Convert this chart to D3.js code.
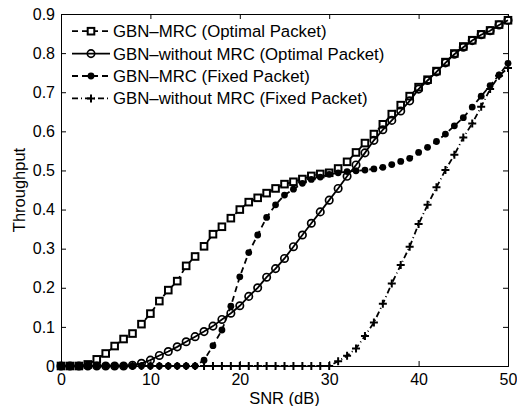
<!DOCTYPE html>
<html>
<head>
<meta charset="utf-8">
<script src="https://cdn.jsdelivr.net/npm/d3@7"></script>
<style>
  body { margin: 0; background: #fff; }
  svg text { font-family: "Liberation Sans", Arial, Helvetica, sans-serif; fill: #000; }
</style>
</head>
<body>
<div id="chart"></div>
<script>
// SNR (dB) sample points
var snr = [0,1,2,3,4,5,6,7,8,9,10,11,12,13,14,15,16,17,18,19,20,21,22,23,24,25,
           26,27,28,29,30,31,32,33,34,35,36,37,38,39,40,41,42,43,44,45,46,47,48,49,50];

// throughput
var mrcOptimal = [0,0,0,0.004,0.017,0.032,0.051,0.069,0.083,0.107,0.134,0.166,0.194,0.217,0.256,0.28,
  0.306,0.337,0.356,0.378,0.40,0.419,0.43,0.442,0.454,0.465,0.471,0.478,0.486,0.491,0.494,0.505,
  0.522,0.546,0.57,0.593,0.618,0.644,0.667,0.69,0.713,0.732,0.754,0.777,0.799,0.817,0.833,0.848,
  0.858,0.873,0.884];
var noMrcOptimal = [0,0,0,0,0,0,0,0,0.002,0.007,0.015,0.027,0.037,0.049,0.062,0.075,0.088,0.102,
  0.119,0.135,0.154,0.178,0.2,0.227,0.249,0.275,0.305,0.335,0.365,0.394,0.424,0.454,0.485,0.514,
  0.545,0.577,0.604,0.628,0.652,0.678,0.708,0.73,0.752,0.775,0.797,0.815,0.832,0.847,0.857,0.872,0.884];
var mrcFixed = [0,0,0,0,0,0,0,0,0,0,0,0,0,0,0,0,0.015,0.052,0.092,0.153,0.228,0.29,0.335,0.38,
  0.412,0.437,0.452,0.467,0.477,0.483,0.49,0.494,0.497,0.499,0.501,0.504,0.508,0.515,0.523,0.531,
  0.546,0.559,0.574,0.593,0.614,0.635,0.662,0.69,0.717,0.744,0.774];
var noMrcFixed = [0,0,0,0,0,0,0,0,0,0,0,0,0,0,0,0,0,0,0,0,0,0,0,0,0,0,0,0,0,0,0,0.012,0.026,
  0.045,0.077,0.111,0.159,0.211,0.258,0.305,0.363,0.412,0.457,0.501,0.54,0.584,0.62,0.663,0.708,
  0.742,0.762];

var legendLabels = ["GBN\u2013MRC (Optimal Packet)", "GBN\u2013without MRC (Optimal Packet)",
                    "GBN\u2013MRC (Fixed Packet)", "GBN\u2013without MRC (Fixed Packet)"];
var xTicks = [0, 10, 20, 30, 40, 50];
var yTicks = [0, 0.1, 0.2, 0.3, 0.4, 0.5, 0.6, 0.7, 0.8, 0.9];

var series = [
  { values: mrcOptimal,   marker: "square", dash: "6,4" },
  { values: noMrcOptimal, marker: "circle", dash: null },
  { values: mrcFixed,     marker: "dot",    dash: "6,4" },
  { values: noMrcFixed,   marker: "plus",   dash: "6,3,1,3" }
];

var width = 517, height = 406;
var margin = { left: 61, right: 9, top: 14, bottom: 40 };

var svg = d3.select("#chart").append("svg")
    .attr("width", width)
    .attr("height", height);

var x = d3.scaleLinear().domain([0, 50]).range([margin.left, width - margin.right]);
var y = d3.scaleLinear().domain([0, 0.9]).range([height - margin.bottom, margin.top]);

// axes: MATLAB-ish, ticks pointing inwards on all four sides
var tickFmt = function(d) { return d === 0 ? "0" : d3.format(".1f")(d); };

svg.append("g")
    .attr("transform", "translate(0," + y(0) + ")")
    .call(d3.axisBottom(x).tickValues(xTicks).tickSize(-5).tickPadding(8).tickFormat(d3.format("d")));
svg.append("g")
    .attr("transform", "translate(0," + y(0.9) + ")")
    .call(d3.axisTop(x).tickValues(xTicks).tickSize(-5).tickFormat(""));
svg.append("g")
    .attr("transform", "translate(" + x(0) + ",0)")
    .call(d3.axisLeft(y).tickValues(yTicks).tickSize(-5).tickPadding(6).tickFormat(tickFmt));
svg.append("g")
    .attr("transform", "translate(" + x(50) + ",0)")
    .call(d3.axisRight(y).tickValues(yTicks).tickSize(-5).tickFormat(""));

svg.selectAll(".domain").attr("stroke", "#000").attr("stroke-width", 1);
svg.selectAll(".tick line").attr("stroke", "#000");
svg.selectAll(".tick text").style("font-size", "16px");

// axis titles
svg.append("text")
    .attr("x", (x(0) + x(50)) / 2)
    .attr("y", 404)
    .attr("text-anchor", "middle")
    .style("font-size", "16.5px")
    .text("SNR (dB)");
svg.append("text")
    .attr("transform", "translate(25," + ((y(0) + y(0.9)) / 2) + ") rotate(-90)")
    .attr("text-anchor", "middle")
    .style("font-size", "16.5px")
    .text("Throughput");

function drawMarker(g, type, cx, cy) {
  if (type === "square") {
    g.append("rect")
      .attr("x", cx - 3.3).attr("y", cy - 3.3)
      .attr("width", 6.6).attr("height", 6.6)
      .attr("fill", "#fff").attr("stroke", "#000").attr("stroke-width", 2);
  } else if (type === "circle") {
    g.append("circle")
      .attr("cx", cx).attr("cy", cy).attr("r", 3.7)
      .attr("fill", "none").attr("stroke", "#000").attr("stroke-width", 1.7);
  } else if (type === "dot") {
    g.append("circle")
      .attr("cx", cx).attr("cy", cy).attr("r", 3.4)
      .attr("fill", "#000");
  } else if (type === "plus") {
    g.append("path")
      .attr("d", "M" + (cx - 4) + "," + cy + "H" + (cx + 4) + "M" + cx + "," + (cy - 4) + "V" + (cy + 4))
      .attr("stroke", "#000").attr("stroke-width", 2);
  }
}

var line = d3.line()
    .x(function(d) { return x(d[0]); })
    .y(function(d) { return y(d[1]); });

series.forEach(function(s) {
  var pts = snr.map(function(v, i) { return [v, s.values[i]]; });
  var g = svg.append("g");
  g.append("path")
    .datum(pts)
    .attr("d", line)
    .attr("fill", "none")
    .attr("stroke", "#000")
    .attr("stroke-width", 1.8)
    .attr("stroke-dasharray", s.dash);
  pts.forEach(function(p) { drawMarker(g, s.marker, x(p[0]), y(p[1])); });
});

// legend, no frame
var legend = svg.append("g");
series.forEach(function(s, i) {
  var ly = 31.2 + i * 22.4;
  legend.append("line")
    .attr("x1", 72).attr("x2", 110).attr("y1", ly).attr("y2", ly)
    .attr("stroke", "#000").attr("stroke-width", 1.8)
    .attr("stroke-dasharray", s.dash);
  drawMarker(legend, s.marker, 91, ly);
  legend.append("text")
    .attr("x", 113).attr("y", ly).attr("dy", "0.36em")
    .style("font-size", "16.8px")
    .text(legendLabels[i]);
});
</script>
</body>
</html>
